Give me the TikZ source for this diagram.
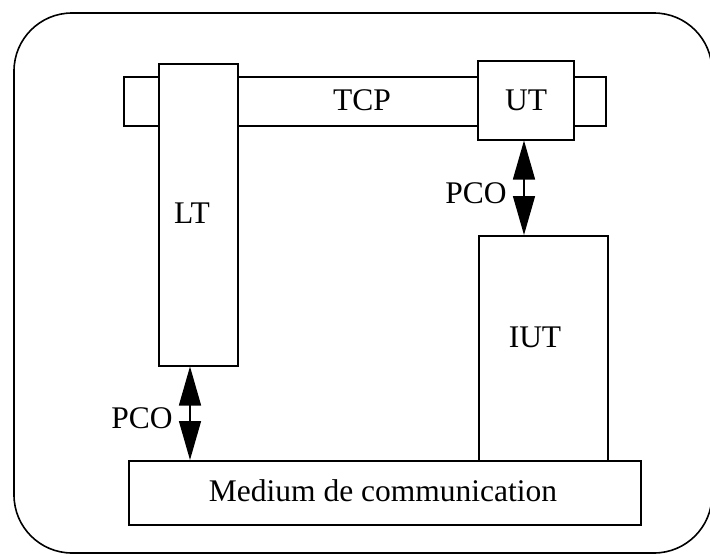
\documentclass[tikz,border=0pt]{standalone}
\usepackage{fontspec}
\setmainfont{Liberation Serif}
\usetikzlibrary{arrows.meta}
\begin{document}
\begin{tikzpicture}[x=1pt,y=-1pt,
  box/.style={draw, line width=1.5pt, fill=white, inner sep=0pt, anchor=north west},
  txt/.style={font=\fontsize{31.5}{34}\selectfont, inner sep=0pt},
  pco/.style={line width=1.5pt, {Triangle[width=22pt,length=39pt]}-{Triangle[width=22pt,length=39pt]}}]
\useasboundingbox (0,0) rectangle (710,554);
\clip (0,0) rectangle (710,554);
\draw[line width=1.6pt, rounded corners=58pt] (14,13) rectangle (712,553);
% TCP band
\node[box, minimum width=482pt, minimum height=49pt] (tcp) at (123,76) {};
\node[txt] (tcpl) at (362,100) {TCP};
% LT
\node[box, minimum width=79pt, minimum height=302pt] (LT) at (158,63) {};
\node[txt] (LTl) at (192,213) {LT};
% UT
\node[box, minimum width=96pt, minimum height=79pt] (UT) at (477,60) {};
\node[txt] (UTl) at (526,100) {UT};
% IUT
\node[box, minimum width=129pt, minimum height=225pt] (IUT) at (478,235) {};
\node[txt] (IUTl) at (535,337) {IUT};
% Medium
\node[box, minimum width=512pt, minimum height=64pt] (med) at (128,460) {};
\node[txt] (medl) at (383,491) {Medium de communication};
% arrows
\coordinate (a1) at (190,0);
\draw[pco] (a1 |- LT.south) -- (a1 |- med.north);
\node[txt] (pco1) at (142,418) {PCO};
\coordinate (a2) at (524,0);
\draw[pco] (a2 |- UT.south) -- (a2 |- IUT.north);
\node[txt] (pco2) at (476,193) {PCO};
\end{tikzpicture}
\end{document}
